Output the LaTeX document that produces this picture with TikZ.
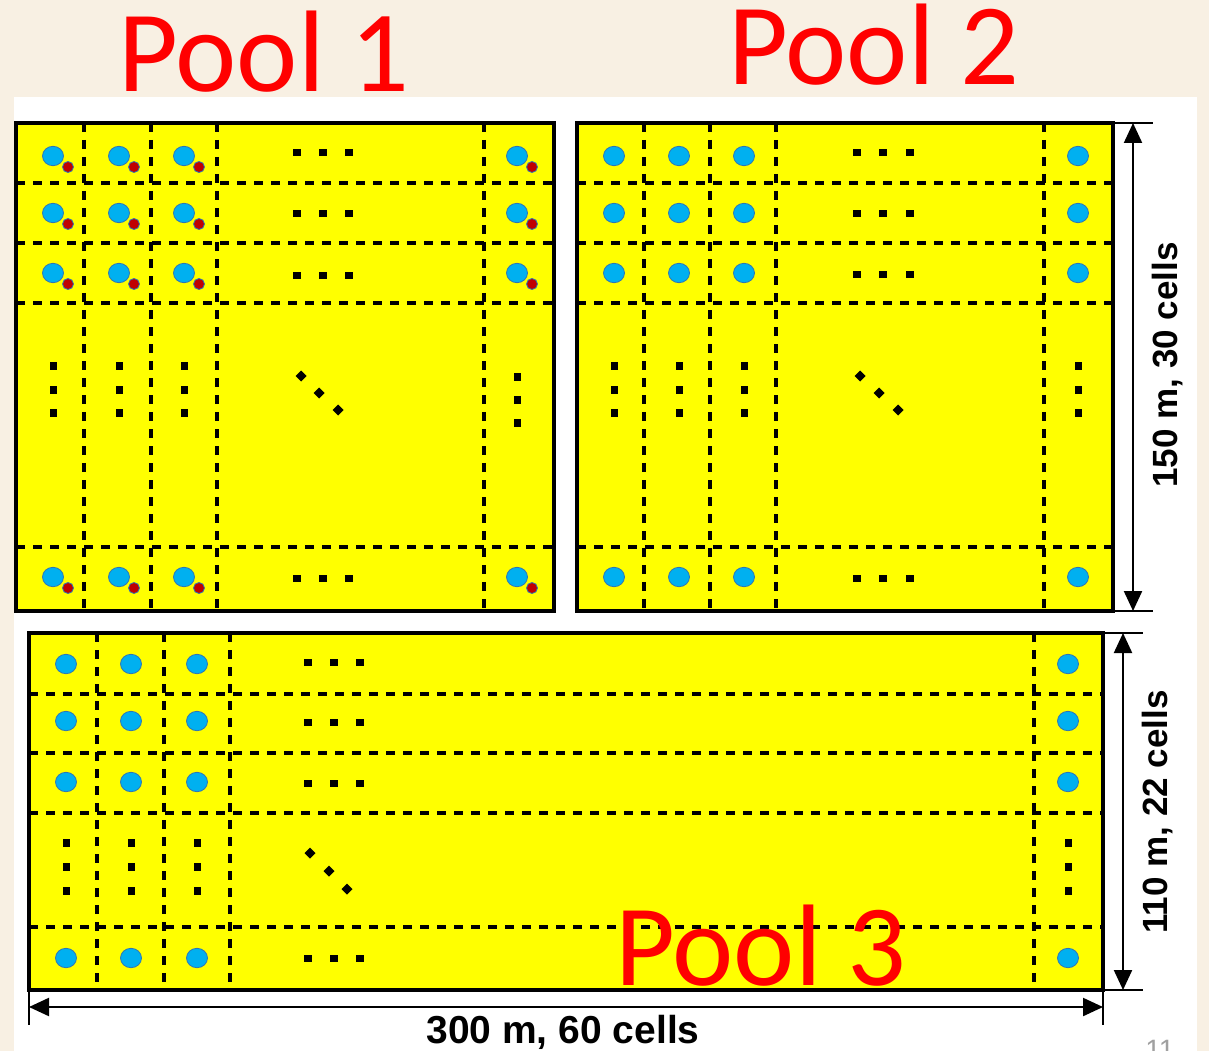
\documentclass[tikz,border=0pt]{standalone}
\usepackage{fontspec}
\setmainfont{Liberation Sans}
\newfontfamily\calibri{Carlito}
\usetikzlibrary{arrows.meta}
\definecolor{bgbeige}{HTML}{F8F0E3}
\definecolor{poolyellow}{HTML}{FFFF00}
\definecolor{cellblue}{HTML}{00B0F0}
\definecolor{cellred}{HTML}{C00000}
\definecolor{edgeblue}{HTML}{2E75B6}
\definecolor{pagegrey}{HTML}{A0A0A0}
\begin{document}
\begin{tikzpicture}[x=1pt,y=-1pt,
  gridline/.style={black, line width=3.2pt, dash pattern=on 9pt off 8pt},
  poolframe/.style={black, line width=4pt},
  bluecell/.style={fill=cellblue, draw=edgeblue, line width=0.8pt},
  redcell/.style={fill=cellred, draw=edgeblue, line width=0.8pt},
  sqdot/.style={fill=black},
  dimline/.style={black, line width=2.2pt},
  dimarrow/.style={black, line width=2.2pt, {Triangle[length=20pt,width=18pt]}-{Triangle[length=20pt,width=18pt]}},
  poolname/.style={text=red, font=\calibri\fontsize{116}{116}\selectfont, inner sep=0pt},
  dimtext/.style={font=\bfseries\fontsize{39}{39}\selectfont, inner sep=0pt},
  vdimtext/.style={font=\bfseries\fontsize{35}{35}\selectfont, inner sep=0pt, rotate=90}
]
\useasboundingbox (0,0) rectangle (1209,1051);
\fill[bgbeige] (0,0) rectangle (1209,1051);
\fill[white] (14,97) rectangle (1197,1051);

% ---------- Pool 1 ----------
\fill[poolyellow] (16,123) rectangle (554,611);
\foreach \x in {84,151,217,484} \draw[gridline] (\x,123) -- (\x,611);
\foreach \y in {183,243,303,547} \draw[gridline] (16,\y) -- (554,\y);
\foreach \x in {53,119,184,517} \foreach \y in {156,213,273,577} {
  \filldraw[bluecell] (\x,\y) ellipse (10.5 and 9.7);
  \filldraw[redcell] (\x+15,\y+11) circle (5.5);
}
\foreach \x in {297,323,349} \foreach \y in {153,213,275,578}
  \fill[sqdot] (\x-4,\y-3.5) rectangle (\x+4,\y+3.5);
\foreach \x in {53,119,184} \foreach \y in {366,390,413}
  \fill[sqdot] (\x-3.5,\y-4) rectangle (\x+3.5,\y+4);
\foreach \y in {377,400,423}
  \fill[sqdot] (517-3.5,\y-4) rectangle (517+3.5,\y+4);
\foreach \x/\y in {301/376,319/393,338/410}
  \fill[sqdot] (\x,\y-5.5) -- (\x+5.5,\y) -- (\x,\y+5.5) -- (\x-5.5,\y) -- cycle;
\draw[poolframe] (16,123) rectangle (554,611);

% ---------- Pool 2 ----------
\fill[poolyellow] (577,123) rectangle (1113,611);
\foreach \x in {644,710,776,1044} \draw[gridline] (\x,123) -- (\x,611);
\foreach \y in {183,243,303,547} \draw[gridline] (577,\y) -- (1113,\y);
\foreach \x in {614,679,744,1078} \foreach \y in {156,213,273,577}
  \filldraw[bluecell] (\x,\y) ellipse (10.5 and 9.7);
\foreach \x in {857,883,910} \foreach \y in {153,213,274,578}
  \fill[sqdot] (\x-4,\y-3.5) rectangle (\x+4,\y+3.5);
\foreach \x in {614,679,744,1078} \foreach \y in {366,390,413}
  \fill[sqdot] (\x-3.5,\y-4) rectangle (\x+3.5,\y+4);
\foreach \x/\y in {860/376,879/393,898/410}
  \fill[sqdot] (\x,\y-5.5) -- (\x+5.5,\y) -- (\x,\y+5.5) -- (\x-5.5,\y) -- cycle;
\draw[poolframe] (577,123) rectangle (1113,611);

% ---------- Pool 3 ----------
\fill[poolyellow] (29,633) rectangle (1103,990);
\foreach \x in {97,164,230,1034} \draw[gridline] (\x,633) -- (\x,990);
\foreach \y in {694,753,813,927} \draw[gridline] (29,\y) -- (1103,\y);
\foreach \x in {66,131,197,1068} \foreach \y in {664,721,782,958}
  \filldraw[bluecell] (\x,\y) ellipse (10.5 and 9.7);
\foreach \x in {308,334,360} \foreach \y in {662,722,783,958}
  \fill[sqdot] (\x-4,\y-3.5) rectangle (\x+4,\y+3.5);
\foreach \x in {66,131,197,1068} \foreach \y in {843,867,891}
  \fill[sqdot] (\x-3.5,\y-4) rectangle (\x+3.5,\y+4);
\foreach \x/\y in {310/853,329/871,347/889}
  \fill[sqdot] (\x,\y-5.5) -- (\x+5.5,\y) -- (\x,\y+5.5) -- (\x-5.5,\y) -- cycle;
\draw[poolframe] (29,633) rectangle (1103,990);

% ---------- Dimensions ----------
\coordinate (d1top) at (1133,123);
\coordinate (d1bot) at (1133,611);
\draw[dimline] (1113,123) -- (1153,123);
\draw[dimline] (1113,611) -- (1153,611);
\draw[dimarrow] (d1top) -- (d1bot);
\node[vdimtext] (l1) at (1168,365) {150 m, 30 cells};

\coordinate (d2top) at (1123,633);
\coordinate (d2bot) at (1123,990);
\draw[dimline] (1103,633) -- (1143,633);
\draw[dimline] (1103,990) -- (1143,990);
\draw[dimarrow] (d2top) -- (d2bot);
\node[vdimtext] (l2) at (1158,812) {110 m, 22 cells};

\coordinate (d3left) at (29,1007);
\coordinate (d3right) at (1103,1007);
\draw[dimline] (29,990) -- (29,1025);
\draw[dimline] (1103,990) -- (1103,1025);
\draw[dimarrow] (d3left) -- (d3right);
\node[dimtext] (l3) at (563,1032) {300 m, 60 cells};

% ---------- Pool names ----------
\node[poolname, anchor=base west] (n1) at (118,92) {Pool 1};
\node[poolname, anchor=base west] (n2) at (728,85) {Pool 2};
\node[poolname, anchor=base west] (n3) at (615,985) {Pool 3};

\node[text=pagegrey, font=\fontsize{28}{28}\selectfont, anchor=north, inner sep=0pt] (pg) at (1160,1040) {11};
\end{tikzpicture}
\end{document}
